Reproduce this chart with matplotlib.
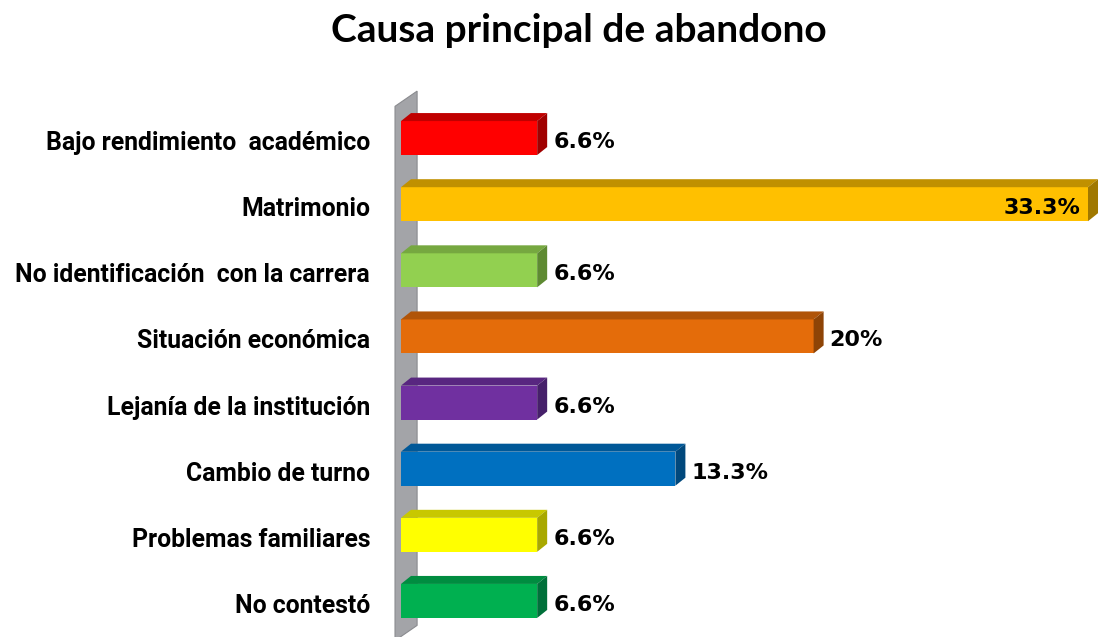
import matplotlib
matplotlib.use("Agg")
import matplotlib.pyplot as plt
from matplotlib.patches import Polygon

categorias = ["Bajo rendimiento  académico", "Matrimonio",
              "No identificación  con la carrera", "Situación económica",
              "Lejanía de la institución", "Cambio de turno",
              "Problemas familiares", "No contestó"]
valores = [6.6, 33.3, 6.6, 20, 6.6, 13.3, 6.6, 6.6]
etiquetas = ["6.6%", "33.3%", "6.6%", "20%", "6.6%", "13.3%", "6.6%", "6.6%"]
colores = ["#FF0000", "#FFC000", "#92D050", "#E46C0A",
           "#7030A0", "#0070C0", "#FFFF00", "#00B050"]
colores_arriba = ["#C00000", "#C09000", "#76A840", "#B05408",
                  "#582680", "#005898", "#C8C800", "#008C40"]
colores_lado = ["#A00000", "#A07800", "#5E8A32", "#8E4406",
                "#46206A", "#00487C", "#A8A800", "#00703A"]

fig = plt.figure(figsize=(11, 6.37), dpi=100)
ax = fig.add_axes([401/1100, 3/637, 687/1100, 529/637])
ax.set_xlim(0, 33.3)
ax.set_ylim(7.5, -0.5)
ax.axis("off")

dx = 0.485   # profundidad 3D en x
dy = 0.121   # profundidad 3D en y
h = 0.257    # media altura de barra

# pared lateral gris
pared = Polygon([(-0.29, 7.6), (-0.29, -0.48), (0.78, -0.71), (0.78, 7.37)],
                closed=True, facecolor="#A3A4A8", edgecolor="#8A8B8F",
                lw=0.8, clip_on=False, zorder=1)
ax.add_patch(pared)

for i, v in enumerate(valores):
    frente = Polygon([(0, i - h), (v, i - h), (v, i + h), (0, i + h)],
                     facecolor=colores[i], edgecolor="none",
                     clip_on=False, zorder=3)
    arriba = Polygon([(0, i - h), (dx, i - h - dy), (v + dx, i - h - dy), (v, i - h)],
                     facecolor=colores_arriba[i], edgecolor="none",
                     clip_on=False, zorder=3)
    lado = Polygon([(v, i - h), (v + dx, i - h - dy), (v + dx, i + h - dy), (v, i + h)],
                   facecolor=colores_lado[i], edgecolor="none",
                   clip_on=False, zorder=3)
    for p in (frente, arriba, lado):
        ax.add_patch(p)

    ax.annotate(categorias[i], xy=(0, i), xycoords="data",
                xytext=(-31, -5), textcoords="offset pixels",
                ha="right", va="center", fontsize=17.8, fontweight="bold",
                family=["Roboto", "DejaVu Sans"],
                annotation_clip=False)
    if v > 30:
        ax.annotate(etiquetas[i], xy=(v, i), xytext=(-8, -4),
                    textcoords="offset pixels", ha="right", va="center",
                    fontsize=16, fontweight="bold", annotation_clip=False,
                    zorder=5)
    else:
        ax.annotate(etiquetas[i], xy=(v + dx, i), xytext=(6, -4),
                    textcoords="offset pixels", ha="left", va="center",
                    fontsize=16, fontweight="bold", annotation_clip=False,
                    zorder=5)

fig.text(579/1100, 1 - 31/637, "Causa principal de abandono",
         ha="center", va="center", fontsize=28, fontweight="bold",
         family=["Lato", "DejaVu Sans"])

fig.savefig("out.png", dpi=100)
